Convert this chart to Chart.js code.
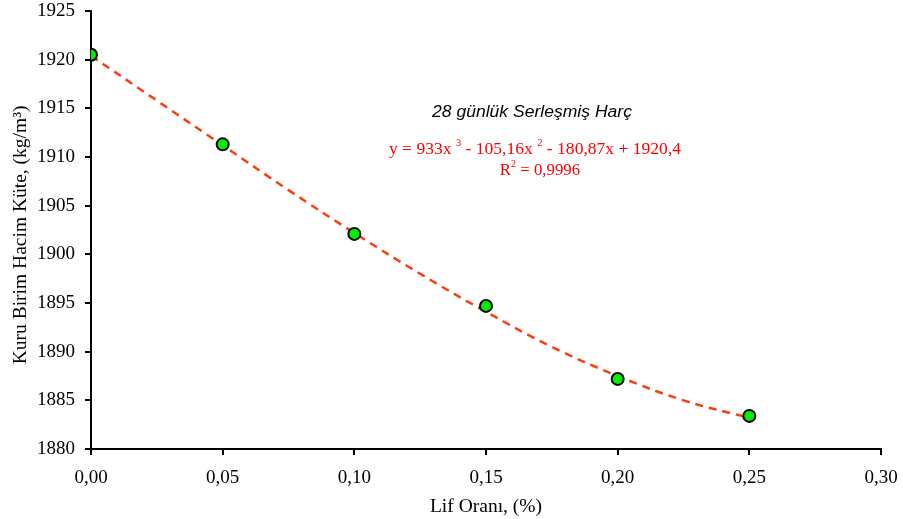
<!DOCTYPE html>
<html>
<head>
<meta charset="utf-8">
<script src="https://cdn.jsdelivr.net/npm/chart.js@4.4.1/dist/chart.umd.min.js"></script>
<style>
  html, body { margin: 0; padding: 0; background: #fff; }
  #wrap { width: 903px; height: 519px; }
</style>
</head>
<body>
<div id="wrap"><canvas id="c" width="903" height="519"></canvas></div>
<script>
// Measured points: fibre ratio (%) vs dry unit weight (kg/m3)
const lifOrani = [0.00, 0.05, 0.10, 0.15, 0.20, 0.25];
const kuruBirimHacimKutle = [1920.5, 1911.3, 1902.1, 1894.7, 1887.2, 1883.4];

// Trend line (3rd order polynomial)
const trendX = [0.000, 0.025, 0.050, 0.075, 0.100, 0.125, 0.150, 0.175, 0.200, 0.225, 0.250];
const trendY = [1920.4, 1915.8, 1911.2, 1906.6, 1902.2, 1898.0, 1894.1, 1890.5, 1887.5, 1885.0, 1883.2];

const xTicks = [0.00, 0.05, 0.10, 0.15, 0.20, 0.25, 0.30];
const yTicks = [1880, 1885, 1890, 1895, 1900, 1905, 1910, 1915, 1920, 1925];

const seriesTitle = "28 günlük Serleşmiş Harç";
const equationParts = [["y = 933x ", false], ["3", true], [" - 105,16x ", false], ["2", true], [" - 180,87x + 1920,4", false]];
const r2Parts = [["R", false], ["2", true], [" = 0,9996", false]];

const serif = "'Liberation Serif', 'Times New Roman', serif";

const annotationPlugin = {
  id: 'annot',
  afterDatasetsDraw(chart) {
    const ctx = chart.ctx;
    ctx.save();
    ctx.fillStyle = '#000';
    ctx.textBaseline = 'middle';
    ctx.textAlign = 'center';
    ctx.font = "italic 15px 'Liberation Sans', Arial, sans-serif";
    ctx.save();
    ctx.translate(532, 113);
    ctx.scale(1.17, 1.05);
    ctx.fillText(seriesTitle, 0, 0);
    ctx.restore();

    function drawParts(parts, cx, cy, size, sx, sy) {
      ctx.save();
      ctx.translate(cx, cy);
      ctx.scale(sx, sy);
      ctx.textAlign = 'left';
      ctx.fillStyle = '#FF0000';
      let total = 0;
      for (const [t, sup] of parts) {
        ctx.font = (sup ? Math.round(size * 0.62) : size) + 'px ' + serif;
        total += ctx.measureText(t).width;
      }
      let x = -total / 2;
      for (const [t, sup] of parts) {
        ctx.font = (sup ? Math.round(size * 0.62) : size) + 'px ' + serif;
        ctx.fillText(t, x, sup ? -size * 0.38 : 0);
        x += ctx.measureText(t).width;
      }
      ctx.restore();
    }
    drawParts(equationParts, 535, 150, 15, 1.17, 1.08);
    drawParts(r2Parts, 540, 171, 15, 1.12, 1.08);
    ctx.restore();
  }
};

new Chart(document.getElementById('c'), {
  type: 'scatter',
  data: {
    datasets: [
      {
        label: 'trend',
        data: trendX.map((x, i) => ({ x: x, y: trendY[i] })),
        showLine: true,
        borderColor: '#FF3B0F',
        borderWidth: 2.5,
        borderDash: [8, 6],
        pointRadius: 0,
        tension: 0.4,
        fill: false,
        order: 2
      },
      {
        label: seriesTitle,
        data: lifOrani.map((x, i) => ({ x: x, y: kuruBirimHacimKutle[i] })),
        backgroundColor: '#00F000',
        borderColor: '#000000',
        borderWidth: 2,
        pointRadius: 6,
        order: 1
      }
    ]
  },
  options: {
    responsive: false,
    animation: false,
    events: [],
    layout: { padding: { left: 0, right: 22, top: 11, bottom: 0 } },
    plugins: {
      legend: { display: false },
      tooltip: { enabled: false }
    },
    scales: {
      x: {
        type: 'linear',
        min: 0, max: 0.30,
        afterBuildTicks(scale) { scale.ticks = xTicks.map(v => ({ value: v })); },
        afterFit(scale) { scale.height = 70; scale.paddingLeft = 0; scale.paddingRight = 0; },
        border: { display: true, color: '#000', width: 2 },
        grid: { display: true, drawOnChartArea: false, drawTicks: true, tickLength: 6, color: '#000', lineWidth: 2 },
        ticks: {
          color: '#000',
          font: { family: serif, size: 19 },
          padding: 12,
          maxRotation: 0,
          callback: v => v.toFixed(2).replace('.', ',')
        },
        title: {
          display: true,
          text: 'Lif Oranı, (%)',
          color: '#000',
          font: { family: serif, size: 19.5 },
          padding: { top: 4, bottom: 0 }
        }
      },
      y: {
        type: 'linear',
        min: 1880, max: 1925,
        afterBuildTicks(scale) { scale.ticks = yTicks.map(v => ({ value: v })); },
        afterFit(scale) { scale.width = 91; scale.paddingTop = 0; scale.paddingBottom = 0; },
        border: { display: true, color: '#000', width: 2 },
        grid: { display: true, drawOnChartArea: false, drawTicks: true, tickLength: 6, color: '#000', lineWidth: 2 },
        ticks: {
          color: '#000',
          font: { family: serif, size: 19 },
          padding: 10,
          callback: v => String(v)
        },
        title: {
          display: true,
          text: 'Kuru Birim Hacim Küte, (kg/m³)  ',
          color: '#000',
          font: { family: serif, size: 19.5 },
          padding: { top: 9, bottom: 0 }
        }
      }
    }
  },
  plugins: [annotationPlugin]
});
</script>
</body>
</html>
